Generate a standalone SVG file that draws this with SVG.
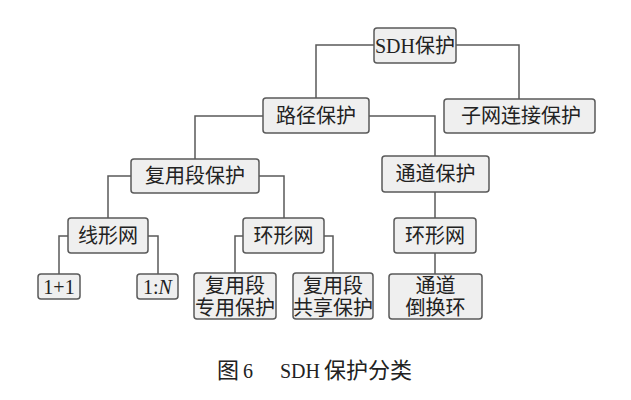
<svg xmlns="http://www.w3.org/2000/svg" width="631" height="400" viewBox="0 0 631 400">
<style>
.box{fill:#efefef;stroke:#5a5a5a;stroke-width:1.5}
.t{font-family:"Liberation Serif","Noto Sans CJK SC",serif;font-size:20px;fill:#222;text-anchor:middle;dominant-baseline:central}
.c{fill:none;stroke:#5a5a5a;stroke-width:1.5}
.cap{font-family:"Noto Sans CJK SC",sans-serif;font-size:22px;fill:#222;font-weight:normal}
.capl{font-family:"Liberation Serif",serif;font-size:20px;fill:#222}
</style>
<rect width="631" height="400" fill="#fff"/>
<g id="connectors">
<path class="c" d="M374 45H316V98"/>
<path class="c" d="M456 45H519V99"/>
<path class="c" d="M263 116H195V159"/>
<path class="c" d="M369 116H435V156"/>
<path class="c" d="M131 176H108V218"/>
<path class="c" d="M259 176H284V218"/>
<path class="c" d="M68 236H59V274"/>
<path class="c" d="M148 236H158V274"/>
<path class="c" d="M243 236H235V273"/>
<path class="c" d="M324 236H333V273"/>
<path class="c" d="M435 192V218"/>
<path class="c" d="M435 253V274"/>
</g>
<g id="n-sdh"><rect class="box" x="374" y="28" width="82" height="35" rx="3"/><text class="t" x="415" y="45.5">SDH保护</text></g>
<g id="n-path"><rect class="box" x="263" y="98" width="106" height="35" rx="3"/><text class="t" x="316" y="115.5">路径保护</text></g>
<g id="n-snc"><rect class="box" x="444" y="99" width="151" height="34" rx="3"/><text class="t" x="521" y="116">子网连接保护</text></g>
<g id="n-ms"><rect class="box" x="131" y="159" width="128" height="34" rx="3"/><text class="t" x="195" y="176">复用段保护</text></g>
<g id="n-ch"><rect class="box" x="382" y="156" width="107" height="36" rx="3"/><text class="t" x="435.5" y="174">通道保护</text></g>
<g id="n-linear"><rect class="box" x="68" y="218" width="80" height="35" rx="3"/><text class="t" x="108" y="235.5">线形网</text></g>
<g id="n-ring1"><rect class="box" x="243" y="218" width="81" height="35" rx="3"/><text class="t" x="283.5" y="235.5">环形网</text></g>
<g id="n-ring2"><rect class="box" x="394" y="218" width="82" height="35" rx="3"/><text class="t" x="435" y="235.5">环形网</text></g>
<g id="n-11"><rect class="box" x="38" y="274" width="42" height="25" rx="3"/><text class="t" x="59" y="286.5">1+1</text></g>
<g id="n-1n"><rect class="box" x="137" y="274" width="41" height="25" rx="3"/><text class="t" x="157.5" y="286.5">1:<tspan font-style="italic">N</tspan></text></g>
<g id="n-msded"><rect class="box" x="194" y="273" width="82" height="46" rx="3"/><text class="t" x="235" y="286">复用段</text><text class="t" x="235" y="308">专用保护</text></g>
<g id="n-msshr"><rect class="box" x="293" y="273" width="80" height="46" rx="3"/><text class="t" x="333" y="286">复用段</text><text class="t" x="333" y="308">共享保护</text></g>
<g id="n-chsw"><rect class="box" x="389" y="274" width="93" height="45" rx="3"/><text class="t" x="435.5" y="286">通道</text><text class="t" x="435.5" y="308">倒换环</text></g>
<g id="caption">
<text class="cap" x="217" y="378">图</text>
<text class="capl" x="243" y="378">6</text>
<text class="capl" x="280" y="378">SDH</text>
<text class="cap" x="324" y="378">保护分类</text>
</g>
</svg>
